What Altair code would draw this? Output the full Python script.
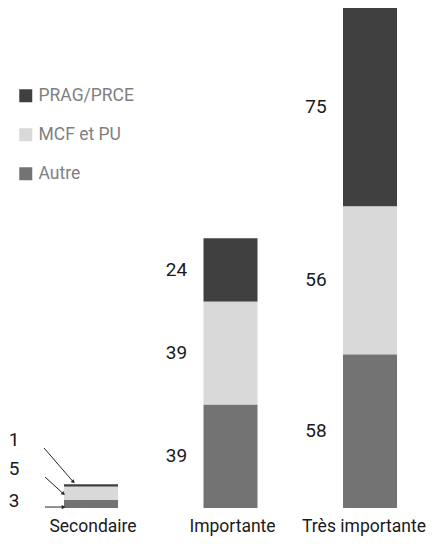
import altair as alt
import pandas as pd

categories = ["Secondaire", "Importante", "Très importante"]
series = ["PRAG/PRCE", "MCF et PU", "Autre"]
prag = [1, 24, 75]
mcf = [5, 39, 56]
autre = [3, 39, 58]
colors = ["#404040", "#d9d9d9", "#737373"]

stack_rank = {"Autre": 0, "MCF et PU": 1, "PRAG/PRCE": 2}
rows = []
for s, vals in zip(series, [prag, mcf, autre]):
    for c, v in zip(categories, vals):
        rows.append({"cat": c, "serie": s, "value": v, "rank": stack_rank[s]})
df = pd.DataFrame(rows)

FONT = "Roboto"
TXT = "#1a1a1a"
total_max = max(a + b + c for a, b, c in zip(prag, mcf, autre))

base = alt.Chart(df).transform_stack(
    stack="value", as_=["y0", "y1"], groupby=["cat"],
    sort=[alt.SortField("rank", order="ascending")]
).transform_calculate(mid="(datum.y0 + datum.y1) / 2")

xenc = alt.X(
    "cat:N", sort=categories,
    scale=alt.Scale(domain=categories, range=[56, 389], paddingInner=0.613, paddingOuter=0),
    axis=alt.Axis(
        title=None, labelAngle=0, domain=False, ticks=False, labelFontSize=17.5,
        labelFont=FONT, labelColor=TXT, labelPadding=23, labelBaseline="alphabetic",
        labelOffset={"condition": {"test": "datum.value == 'Très importante'", "value": -6},
                     "value": 2},
    ),
)
yscale = alt.Scale(domain=[0, total_max], nice=False, zero=True)

bars = base.mark_bar().encode(
    x=xenc,
    y=alt.Y("y0:Q", scale=yscale, axis=None),
    y2="y1:Q",
    color=alt.Color(
        "serie:N",
        scale=alt.Scale(domain=series, range=colors),
        legend=alt.Legend(
            title=None, orient="none", legendX=9, legendY=79, symbolType="square",
            symbolSize=169, symbolStrokeWidth=0, symbolOpacity=1, labelFont=FONT,
            labelFontSize=17.5, labelColor="#7f7f7f", rowPadding=20, padding=0,
            offset=0, labelOffset=4,
        ),
    ),
)

labels = base.transform_filter("datum.cat != 'Secondaire'").mark_text(
    font=FONT, fontSize=19, color=TXT, dx=-54
).encode(x=xenc, y=alt.Y("mid:Q", scale=yscale), text="value:Q")

annot = {
    "PRAG/PRCE": dict(ly=-45.5, ax1=-47, ay1=-37.5, ax2=-18, ay2=-4, angle=138),
    "MCF et PU": dict(ly=-24, ax1=-46, ay1=-16.5, ax2=-28, ay2=0, angle=130),
    "Autre": dict(ly=-3.5, ax1=-46, ay1=3, ax2=-28, ay2=3, angle=90),
}

layers = [bars, labels]
for s, a in annot.items():
    sub = base.transform_filter(
        f"datum.cat == 'Secondaire' && datum.serie == '{s}'"
    )
    layers.append(
        sub.mark_text(font=FONT, fontSize=19, color=TXT, dx=-77, dy=a["ly"]).encode(
            x=xenc, y=alt.Y("mid:Q", scale=yscale), text="value:Q"
        )
    )
    layers.append(
        sub.mark_rule(color="#262626", strokeWidth=1, xOffset=a["ax1"], yOffset=a["ay1"],
                      x2Offset=a["ax2"], y2Offset=a["ay2"]).encode(
            x=xenc, x2="cat:N", y=alt.Y("mid:Q", scale=yscale), y2="mid:Q"
        )
    )
    layers.append(
        sub.mark_point(shape="triangle", filled=True, size=18, opacity=1, color="#262626",
                       angle=a["angle"], xOffset=a["ax2"], yOffset=a["ay2"]).encode(
            x=xenc, y=alt.Y("mid:Q", scale=yscale)
        )
    )

chart = alt.layer(*layers).properties(
    width=418, height=500,
    padding={"left": 0, "top": 0, "right": 0, "bottom": 28},
    autosize=alt.AutoSizeParams(type="none"),
).configure_view(stroke=None)

chart.save("out.html", embed_options={"renderer": "svg", "actions": False})
